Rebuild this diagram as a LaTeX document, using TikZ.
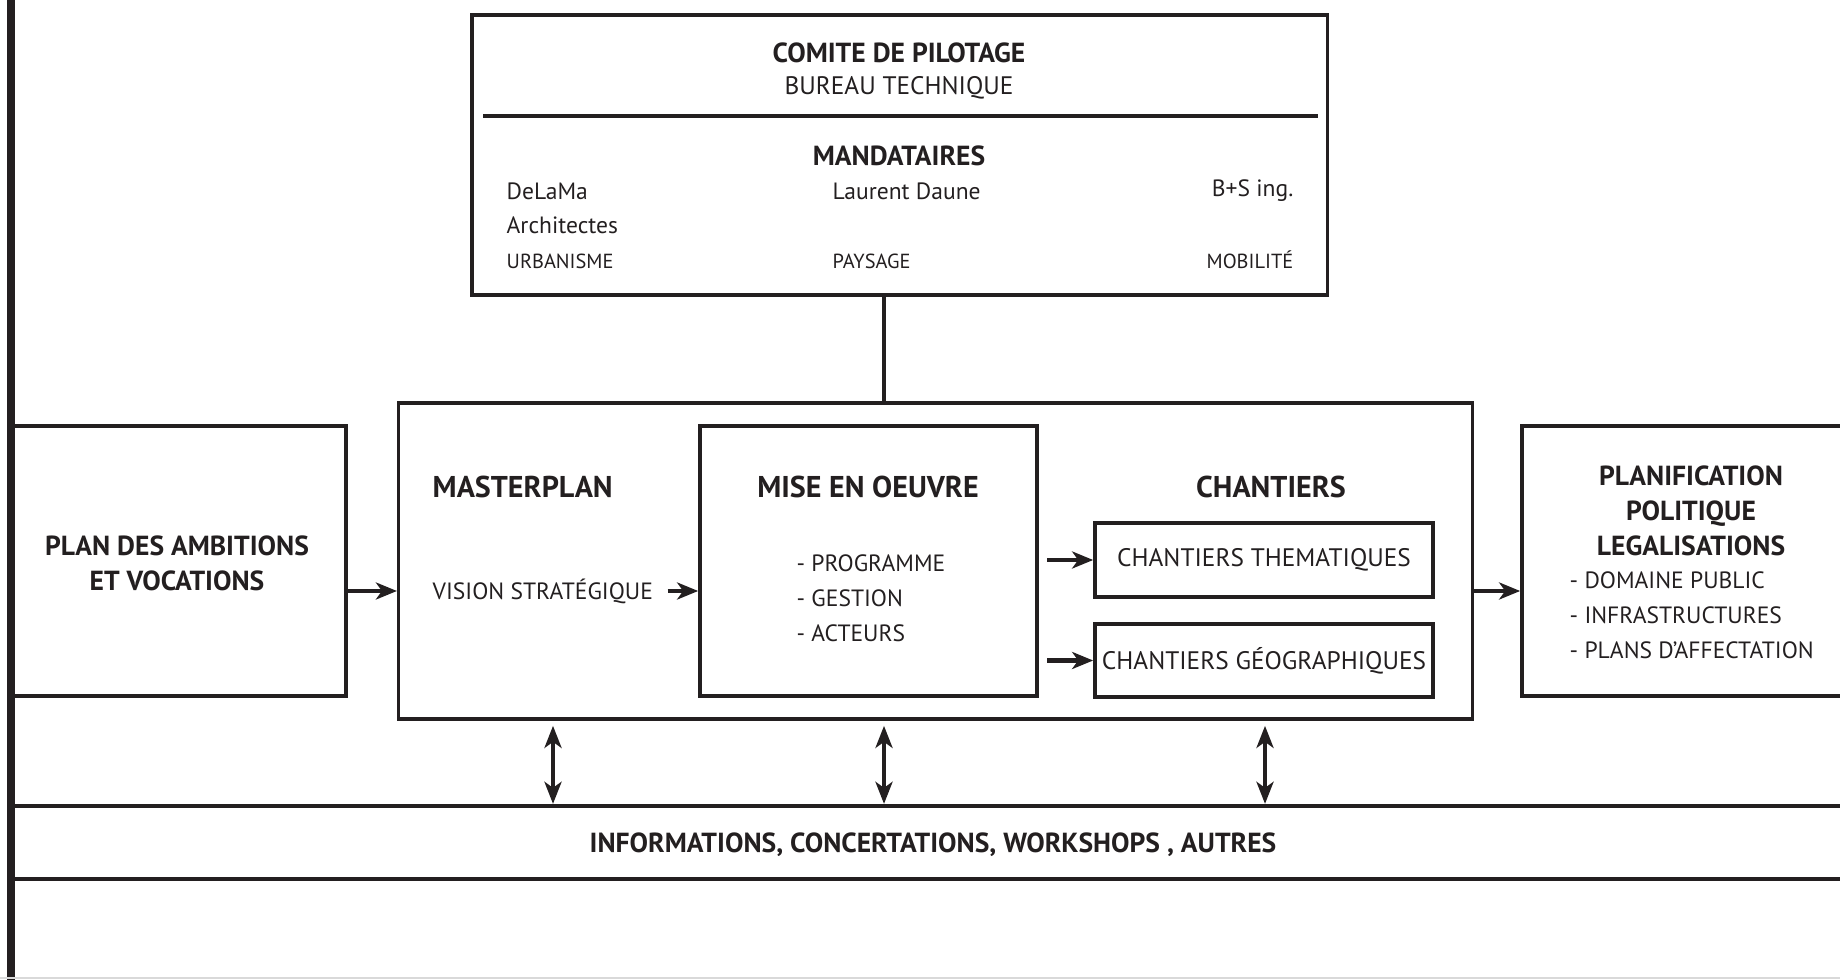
\documentclass[tikz,border=0pt]{standalone}
\usepackage{fontspec}
\setmainfont{PT Sans}
\usepackage{tikz}
\usetikzlibrary{arrows.meta,positioning}
\definecolor{ink}{RGB}{35,31,32}

\newcommand{\fHead}{\fontsize{8.55}{10}\selectfont\bfseries}
\newcommand{\fTitle}{\fontsize{7.85}{10}\selectfont\bfseries}
\newcommand{\fBody}{\fontsize{6.7}{10}\selectfont}
\newcommand{\fBox}{\fontsize{7.2}{10}\selectfont}
\newcommand{\fName}{\fontsize{6.7}{9.7}\selectfont}
\newcommand{\fSmall}{\fontsize{5.8}{8}\selectfont}

\tikzset{
  box/.style={draw=ink, line width=1pt, rectangle},
  arr/.style={ink, line width=1.4pt, -{Stealth[length=0.21cm,width=0.17cm,inset=0.06cm]}},
  dbl/.style={ink, line width=1.1pt,
    {Stealth[length=0.22cm,width=0.17cm,inset=0.06cm]}-{Stealth[length=0.22cm,width=0.17cm,inset=0.06cm]}},
}

\begin{document}
\begin{tikzpicture}[x=0.01cm, y=-0.01cm, every node/.style={text=ink, inner sep=0pt}]
    \useasboundingbox (0,0) rectangle (1840,980);
    \clip (0,0) rectangle (1840,980);

    % comite / mandataires
    \node[box, minimum width=8.55cm, minimum height=2.8cm] (comite) at (899.5,155) {};
    \draw[ink, line width=1pt] (483,116) -- (1318,116);
    \node[font=\fTitle] (copil) at (899,53) {COMITE DE PILOTAGE};
    \node[font=\fBox] (bureau) at (899,88) {BUREAU TECHNIQUE};
    \node[font=\fTitle] (mandat) at (899,156) {MANDATAIRES};
    \node[font=\fName, anchor=west] (delama) at (506,191) {DeLaMa};
    \node[font=\fName, anchor=west] (archi) at (506,225) {Architectes};
    \node[font=\fSmall, anchor=west] (urba) at (506,261) {URBANISME};
    \node[font=\fName, anchor=west] (daune) at (832,191) {Laurent Daune};
    \node[font=\fSmall, anchor=west] (paysage) at (832,261) {PAYSAGE};
    \node[font=\fName, anchor=east] (bs) at (1294,191) {B+S ing.};
    \node[font=\fSmall, anchor=east] (mobil) at (1294,260) {MOBILITÉ};

    % main frame and the boxes around it
    \node[box, minimum width=10.73cm, minimum height=3.16cm] (main) at (935.5,561) {};
    \node[box, minimum width=3.34cm, minimum height=2.7cm] (plan) at (179,561) {};
    \node[font=\fTitle, align=center] (plantxt) at (177,563) {PLAN DES AMBITIONS\\ET VOCATIONS};
    \node[box, minimum width=3.37cm, minimum height=2.7cm] (mise) at (868.5,561) {};
    \node[box, minimum width=3.38cm, minimum height=2.7cm] (planif) at (1691,561) {};

    % masterplan
    \node[font=\fHead, anchor=west] (master) at (432,487) {MASTERPLAN};
    \node[font=\fBody, anchor=west] (vision) at (432,591) {VISION STRATÉGIQUE};

    % mise en oeuvre
    \node[font=\fHead] (misetxt) at (868,487) {MISE EN OEUVRE};
    \node[font=\fBody, align=left, anchor=west] (misel) at (796,598) {- PROGRAMME\\- GESTION\\- ACTEURS};

    % chantiers
    \node[font=\fHead] (chant) at (1271,487) {CHANTIERS};
    \node[box, minimum width=3.38cm, minimum height=0.74cm, font=\fBox] (them) at (1264,560) {CHANTIERS THEMATIQUES};
    \node[box, minimum width=3.38cm, minimum height=0.73cm, font=\fBox] (geo) at (1264,660.5) {CHANTIERS GÉOGRAPHIQUES};

    % planification
    \node[font=\fTitle, align=center] (planiftxt) at (1691,511) {PLANIFICATION\\POLITIQUE\\LEGALISATIONS};
    \node[font=\fBody, align=left, anchor=west] (planifl) at (1569,615) {- DOMAINE PUBLIC\\- INFRASTRUCTURES\\- PLANS D’AFFECTATION};

    % band at the bottom
    \node[draw=ink, line width=1.2pt, minimum width=18.49cm, minimum height=0.73cm] (band) at (935.5,842.5) {};
    \node[font=\fTitle] (bandtxt) at (933,845) {INFORMATIONS, CONCERTATIONS, WORKSHOPS , AUTRES};

    % left rule and bottom edge
    \draw[ink, line width=2pt] (11,0) -- (11,980);
    \draw[black!15, line width=0.6pt] (0,978) -- (1840,978);

    % connecting lines and arrows
    \coordinate (link) at (884,0);
    \draw[ink, line width=1.3pt] (comite.south -| link) -- (main.north -| link);
    \draw[arr] (plan.east |- vision) -- (main.west |- vision);
    \draw[arr] ([xshift=0.14cm]vision.east) -- (mise.west |- vision);
    \draw[arr] ([xshift=-0.46cm]them.west) -- (them.west);
    \draw[arr] ([xshift=-0.46cm]geo.west) -- (geo.west);
    \draw[arr] (main.east |- vision) -- (planif.west |- vision);
    \foreach \x in {553,884,1265}{
        \coordinate (tap) at (\x,0);
        \draw[dbl, shorten <=0.05cm] (main.south -| tap) -- (band.north -| tap);
    }
\end{tikzpicture}
\end{document}
